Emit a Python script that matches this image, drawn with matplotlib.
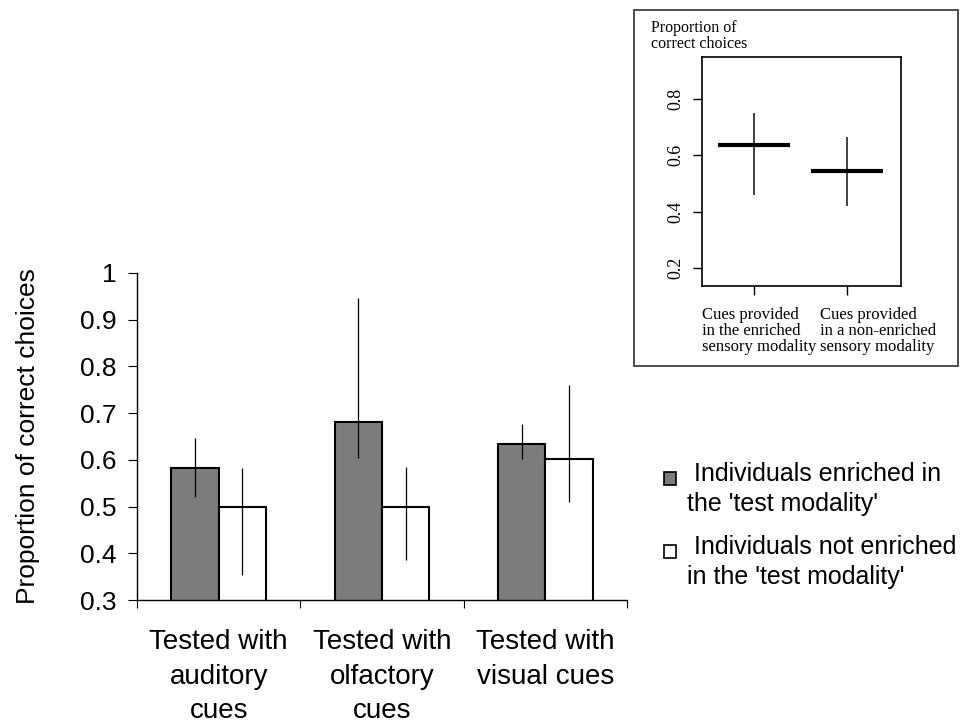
import matplotlib.pyplot as plt
from matplotlib.patches import Rectangle
import numpy as np

# main chart data
groups = ['Tested with\nauditory\ncues', 'Tested with\nolfactory\ncues', 'Tested with\nvisual cues']
enriched = [0.583, 0.682, 0.635]
enriched_lo = [0.521, 0.605, 0.601]
enriched_hi = [0.647, 0.947, 0.676]
not_enriched = [0.500, 0.500, 0.601]
not_enriched_lo = [0.353, 0.385, 0.510]
not_enriched_hi = [0.583, 0.585, 0.760]
yticks = [0.3, 0.4, 0.5, 0.6, 0.7, 0.8, 0.9, 1.0]
ytick_labels = ['0.3', '0.4', '0.5', '0.6', '0.7', '0.8', '0.9', '1']

# inset data
inset_labels = ['Cues provided\nin the enriched\nsensory modality',
                'Cues provided\nin a non-enriched\nsensory modality']
inset_mean = [0.637, 0.544]
inset_lo = [0.459, 0.421]
inset_hi = [0.751, 0.666]
inset_yticks = [0.2, 0.4, 0.6, 0.8]

W, H = 960, 724
sans = 'Liberation Sans'
serif = 'Liberation Serif'
gray = '#7c7c7c'


def fx(px):
    return px / W


def fy(py):
    return 1 - py / H


fig = plt.figure(figsize=(9.6, 7.24), dpi=100)

# ---- main bar chart ----
ax = fig.add_axes([fx(137), fy(600), fx(627) - fx(137), fy(273) - fy(600)])
x = np.arange(len(groups))
bw = 0.29
e = np.array(enriched)
n = np.array(not_enriched)
ax.bar(x - bw / 2, e, bw, color=gray, edgecolor='black', linewidth=1.5, zorder=2)
ax.bar(x + bw / 2, n, bw, color='white', edgecolor='black', linewidth=1.5, zorder=2)
ax.errorbar(x - bw / 2, e, yerr=[e - np.array(enriched_lo), np.array(enriched_hi) - e],
            fmt='none', ecolor='black', elinewidth=0.9, capsize=0, zorder=3)
ax.errorbar(x + bw / 2, n, yerr=[n - np.array(not_enriched_lo), np.array(not_enriched_hi) - n],
            fmt='none', ecolor='black', elinewidth=0.9, capsize=0, zorder=3)

ax.set_xlim(-0.5, 2.5)
ax.set_ylim(0.3, 1.0)
ax.spines['top'].set_visible(False)
ax.spines['right'].set_visible(False)
ax.spines['left'].set_linewidth(1.0)
ax.spines['bottom'].set_linewidth(1.0)
ax.set_yticks(yticks)
ax.set_yticklabels(ytick_labels, fontsize=19, family=sans)
ax.tick_params(axis='y', length=6.5, width=0.8, pad=8)
ax.set_xticks([-0.5, 0.5, 1.5, 2.5])
ax.set_xticklabels([])
ax.tick_params(axis='x', which='major', length=6, width=0.8)
ax.set_xticks(x, minor=True)
ax.set_xticklabels(groups, minor=True, fontsize=20, family=sans, linespacing=1.42)
ax.tick_params(axis='x', which='minor', length=0, pad=21)
ax.set_ylabel('Proportion of correct choices', fontsize=19, family=sans)
ax.yaxis.set_label_coords(-0.198, 0.5)

# ---- legend (drawn by hand, square beside first line) ----
fig.add_artist(Rectangle((fx(664), fy(485)), fx(676) - fx(664), fy(472) - fy(485),
                         transform=fig.transFigure, facecolor=gray, edgecolor='black', lw=1.2))
fig.add_artist(Rectangle((fx(664), fy(558)), fx(676) - fx(664), fy(545) - fy(558),
                         transform=fig.transFigure, facecolor='white', edgecolor='black', lw=1.2))
fig.text(fx(687), fy(462), " Individuals enriched in\nthe 'test modality'", fontsize=18,
         family=sans, va='top', ha='left', linespacing=1.3)
fig.text(fx(687), fy(535), " Individuals not enriched\nin the 'test modality'", fontsize=18,
         family=sans, va='top', ha='left', linespacing=1.3)

# ---- inset ----
fig.add_artist(Rectangle((fx(634), fy(366)), fx(958) - fx(634), fy(10) - fy(366),
                         transform=fig.transFigure, fill=False, edgecolor='#404040', lw=1.3))
ax2 = fig.add_axes([fx(702), fy(286), fx(901) - fx(702), fy(57) - fy(286)])
xi = np.array([1, 2])
ax2.vlines(xi, inset_lo, inset_hi, color='#222222', lw=1.2)
ax2.hlines(inset_mean, xi - 0.39, xi + 0.39, color='black', lw=3)
ax2.set_xlim(0.44, 2.58)
ax2.set_ylim(0.136, 0.949)
ax2.set_yticks(inset_yticks)
ax2.set_yticklabels([str(v) for v in inset_yticks], rotation=90, va='center',
                    fontsize=13, family=serif)
ax2.set_xticks(xi)
ax2.set_xticklabels([])
ax2.tick_params(axis='y', length=6.5, width=1, pad=6)
ax2.tick_params(axis='x', length=6.5, width=1)
for s in ax2.spines.values():
    s.set_linewidth(1.2)
# the category texts sit left-aligned under the inset, not centred on the ticks
for lab, left in zip(inset_labels, [702, 820]):
    fig.text(fx(left), fy(307), lab, fontsize=12, family=serif, va='top', ha='left',
             linespacing=1.0)
fig.text(fx(651), fy(20), 'Proportion of\ncorrect choices', fontsize=11.5, family=serif,
         va='top', ha='left', linespacing=1.0)

fig.savefig('out.png', dpi=100)
